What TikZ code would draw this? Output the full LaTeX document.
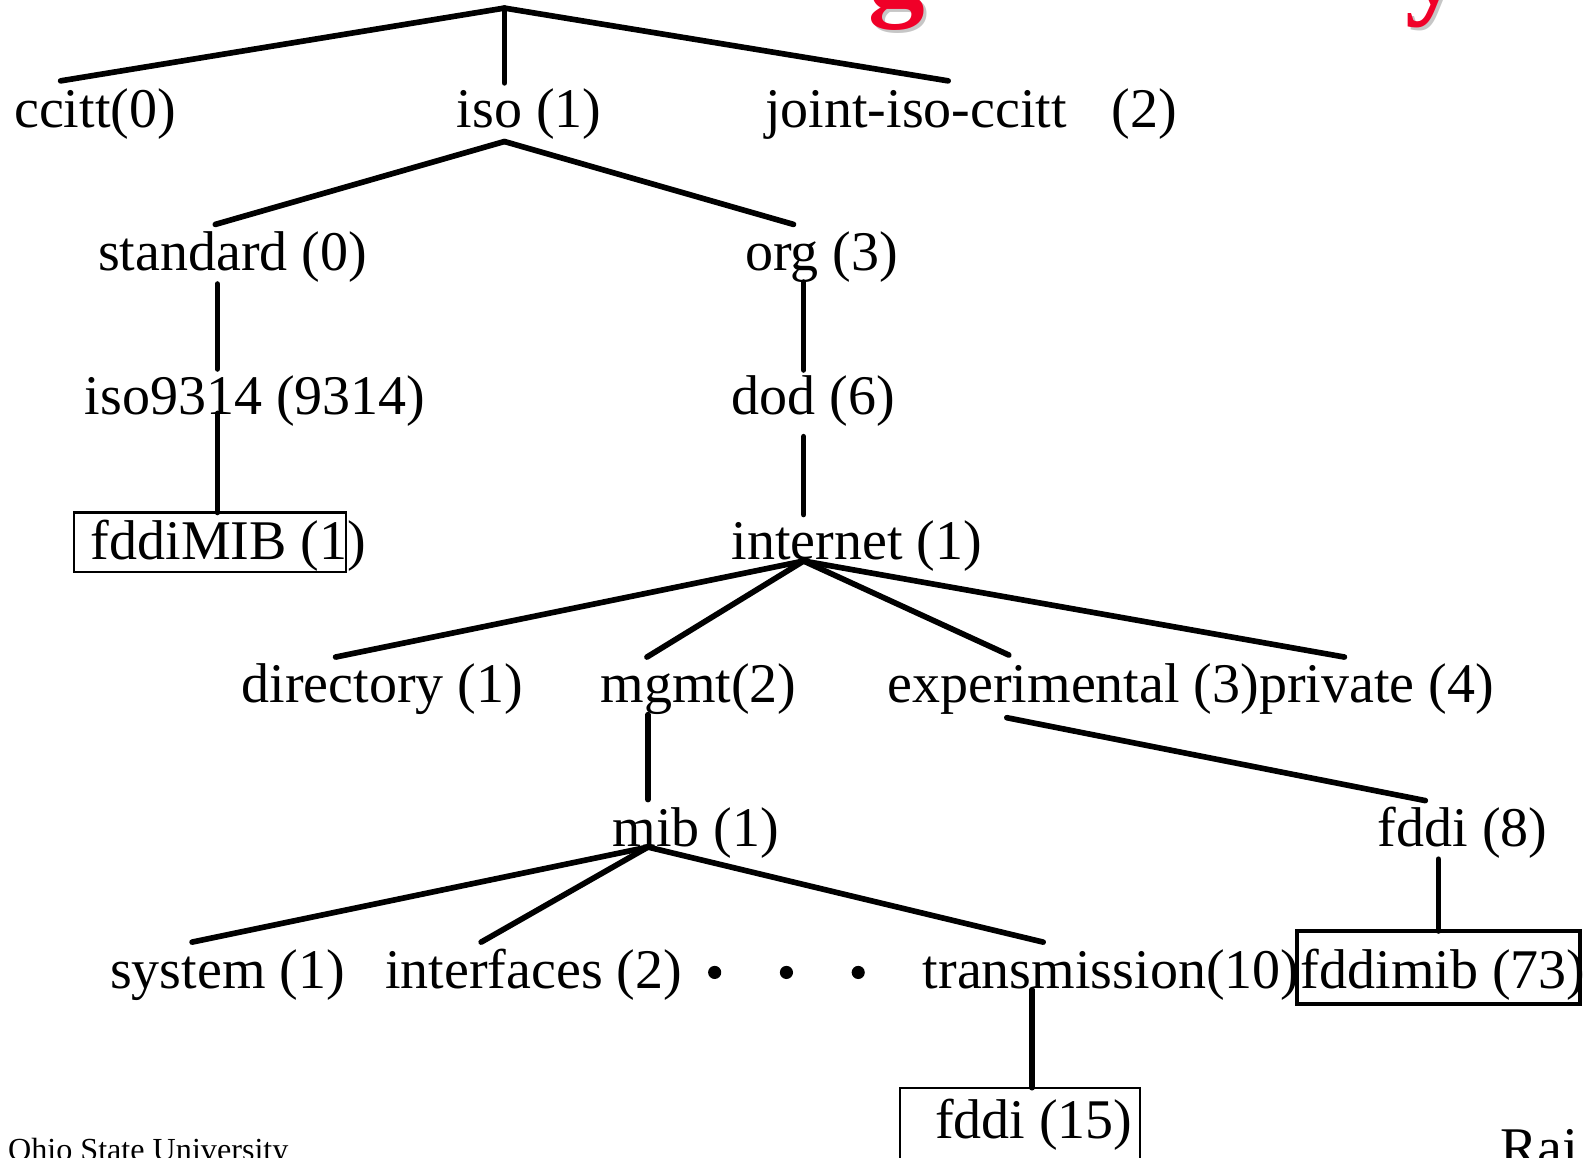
\documentclass[tikz,border=0pt]{standalone}
\usepackage{fontspec}
\setmainfont{Liberation Serif}
\definecolor{titlered}{RGB}{240,0,40}
\begin{document}
\begin{tikzpicture}[x=0.5pt,y=-0.5pt,
  lbl/.style={anchor=base west,inner sep=0pt,outer sep=0pt,font=\fontsize{27.7}{30}\selectfont},
  small/.style={anchor=base west,inner sep=0pt,outer sep=0pt,font=\fontsize{15.9}{18}\selectfont},
  edge/.style={line width=2.8pt,line cap=round},
  thinbox/.style={line width=1pt},
  thickbox/.style={line width=2pt},
  ttl/.style={anchor=base,inner sep=0pt,outer sep=0pt,font=\fontsize{56}{60}\selectfont\bfseries},
  dotmark/.style={fill=black,draw=none}]
\useasboundingbox (0,0) rectangle (1568,1145);
\clip (0,0) rectangle (1568,1145);

% title fragments (cut off at top)
\node[ttl,text=gray!45] (tgs) at (890,8) {g};
\node[ttl,text=titlered] (tg) at (887,5) {g};
\node[ttl,text=gray!45] (tys) at (1421,6) {y};
\node[ttl,text=titlered] (ty) at (1418,3) {y};

% labels
\node[lbl] (ccitt) at (14,126) {ccitt(0)};
\node[lbl] (iso) at (452,126) {iso (1)};
\node[lbl] (joint) at (757,126) {joint-iso-ccitt\hspace{22pt}(2)};
\node[lbl] (std) at (97,268) {standard (0)};
\node[lbl] (org) at (737,268) {org (3)};
\node[lbl] (i93) at (84,410) {iso9314 (9314)};
\node[lbl] (dod) at (724,410) {dod (6)};
\node[lbl] (fm) at (90,553) {fddiMIB (1)};
\node[lbl] (int) at (724,553) {internet (1)};
\node[lbl] (dir) at (239,695) {directory (1)};
\node[lbl] (mg) at (594,695) {mgmt(2)};
\node[lbl] (exp) at (878,695) {experimental (3)private (4)};
\node[lbl] (mib) at (606,837) {mib (1)};
\node[lbl] (f8) at (1363,837) {fddi (8)};
\node[lbl] (sys) at (109,978) {system (1)};
\node[lbl] (if) at (381,978) {interfaces (2)};
\node[lbl] (tr) at (913,978) {transmission(10)};
\node[lbl] (f73) at (1287,978) {fddimib (73)};
\node[lbl] (f15) at (925,1126) {fddi (15)};
\node[small] (osu) at (8,1148) {Ohio State University};
\node[lbl] (raj) at (1484,1154) {Raj Jain};

% dots
\fill[dotmark] (707,962) circle (6.5);
\fill[dotmark] (778,962) circle (6.5);
\fill[dotmark] (849,962) circle (6.5);

% boxes
\draw[thinbox] (73,507) rectangle (342,566);
\draw[thickbox] (1283,921) rectangle (1563,993);
\draw[thinbox] (890,1076) rectangle (1128,1170);

% connection points
\coordinate (root) at (499,8);
\coordinate (cc-t) at (60,80);
\coordinate (iso-t) at (499,82);
\coordinate (jt-t) at (938,80);
\coordinate (iso-b) at (499,140);
\coordinate (std-t) at (213,222);
\coordinate (org-t) at (785,222);
\coordinate (std-b) at (215,281);
\coordinate (i93-t) at (215,365);
\coordinate (i93-b) at (215,409);
\coordinate (fm-t) at (215,507);
\coordinate (org-b) at (795,279);
\coordinate (dod-t) at (795,366);
\coordinate (dod-b) at (795,432);
\coordinate (int-t) at (795,509);
\coordinate (int-b) at (795,555);
\coordinate (dir-t) at (332,650);
\coordinate (mg-t) at (640,650);
\coordinate (exp-t) at (998,648);
\coordinate (pri-t) at (1330,650);
\coordinate (mg-b) at (641,707);
\coordinate (mib-t) at (641,791);
\coordinate (exp-b) at (996,710);
\coordinate (f8-t) at (1410,792);
\coordinate (mib-b) at (641,838);
\coordinate (sys-t) at (190,932);
\coordinate (if-t) at (476,932);
\coordinate (tr-t) at (1032,932);
\coordinate (f8-b) at (1423,850);
\coordinate (f73-t) at (1423,921);
\coordinate (tr-b) at (1021,979);
\coordinate (f15-t) at (1021,1076);

% edges
\draw[edge] (root) -- (cc-t);
\draw[edge] (root) -- (iso-t);
\draw[edge] (root) -- (jt-t);
\draw[edge] (iso-b) -- (std-t);
\draw[edge] (iso-b) -- (org-t);
\draw[edge] (std-b) -- (i93-t);
\draw[edge] (i93-b) -- (fm-t);
\draw[edge] (org-b) -- (dod-t);
\draw[edge] (dod-b) -- (int-t);
\draw[edge] (int-b) -- (dir-t);
\draw[edge] (int-b) -- (mg-t);
\draw[edge] (int-b) -- (exp-t);
\draw[edge] (int-b) -- (pri-t);
\draw[edge] (mg-b) -- (mib-t);
\draw[edge] (exp-b) -- (f8-t);
\draw[edge] (mib-b) -- (sys-t);
\draw[edge] (mib-b) -- (if-t);
\draw[edge] (mib-b) -- (tr-t);
\draw[edge] (f8-b) -- (f73-t);
\draw[edge] (tr-b) -- (f15-t);
\end{tikzpicture}
\end{document}
